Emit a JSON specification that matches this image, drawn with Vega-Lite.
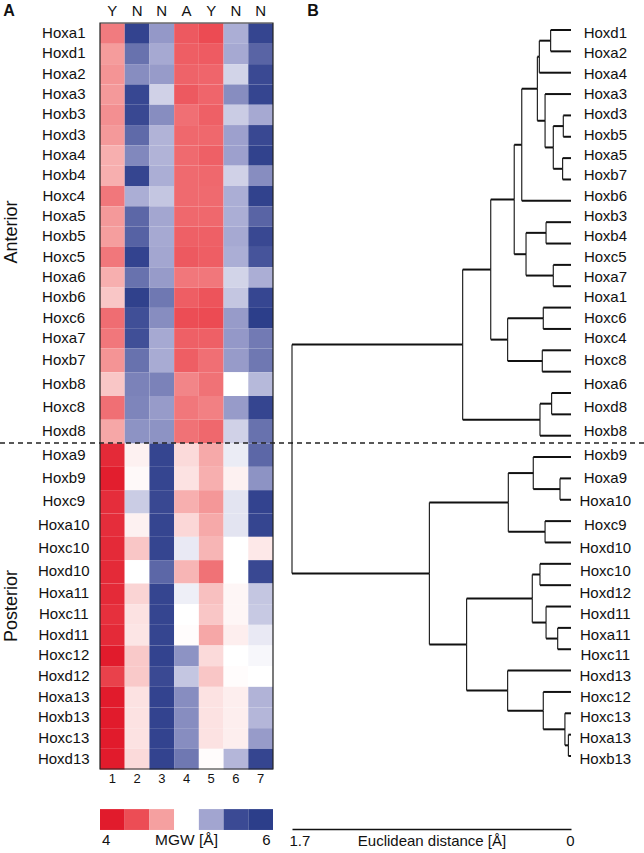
{
  "$schema": "https://vega.github.io/schema/vega-lite/v6.json",
  "width": 644,
  "height": 853,
  "autosize": {"type": "none"},
  "padding": 0,
  "background": "white",
  "config": {
    "view": {"stroke": null},
    "text": {"font": "Liberation Sans", "color": "#111111"},
    "axis": {"labelFont": "Liberation Sans", "titleFont": "Liberation Sans"}
  },
  "datasets": {
    "genes": [
      {"g": "Hoxa1", "r": 0}, {"g": "Hoxd1", "r": 1}, {"g": "Hoxa2", "r": 2}, {"g": "Hoxa3", "r": 3},
      {"g": "Hoxb3", "r": 4}, {"g": "Hoxd3", "r": 5}, {"g": "Hoxa4", "r": 6}, {"g": "Hoxb4", "r": 7},
      {"g": "Hoxc4", "r": 8}, {"g": "Hoxa5", "r": 9}, {"g": "Hoxb5", "r": 10}, {"g": "Hoxc5", "r": 11},
      {"g": "Hoxa6", "r": 12}, {"g": "Hoxb6", "r": 13}, {"g": "Hoxc6", "r": 14}, {"g": "Hoxa7", "r": 15},
      {"g": "Hoxb7", "r": 16}, {"g": "Hoxb8", "r": 17}, {"g": "Hoxc8", "r": 18}, {"g": "Hoxd8", "r": 19},
      {"g": "Hoxa9", "r": 20}, {"g": "Hoxb9", "r": 21}, {"g": "Hoxc9", "r": 22}, {"g": "Hoxa10", "r": 23},
      {"g": "Hoxc10", "r": 24}, {"g": "Hoxd10", "r": 25}, {"g": "Hoxa11", "r": 26}, {"g": "Hoxc11", "r": 27},
      {"g": "Hoxd11", "r": 28}, {"g": "Hoxc12", "r": 29}, {"g": "Hoxd12", "r": 30}, {"g": "Hoxa13", "r": 31},
      {"g": "Hoxb13", "r": 32}, {"g": "Hoxc13", "r": 33}, {"g": "Hoxd13", "r": 34}
    ],
    "cols": [
      {"c": 1, "h": "Y"}, {"c": 2, "h": "N"}, {"c": 3, "h": "N"}, {"c": 4, "h": "A"},
      {"c": 5, "h": "Y"}, {"c": 6, "h": "N"}, {"c": 7, "h": "N"}
    ],
    "legend": [
      {"c": 1, "v": 4}, {"c": 2, "v": 4.333}, {"c": 3, "v": 4.667}, {"c": 4, "v": 5},
      {"c": 5, "v": 5.333}, {"c": 6, "v": 5.667}, {"c": 7, "v": 6}
    ],
    "cells": [
      {"g":"Hoxa1","c":1,"v":4.52},{"g":"Hoxa1","c":2,"v":5.85},{"g":"Hoxa1","c":3,"v":5.38},{"g":"Hoxa1","c":4,"v":4.38},{"g":"Hoxa1","c":5,"v":4.32},{"g":"Hoxa1","c":6,"v":5.30},{"g":"Hoxa1","c":7,"v":5.80},
      {"g":"Hoxd1","c":1,"v":4.65},{"g":"Hoxd1","c":2,"v":5.52},{"g":"Hoxd1","c":3,"v":5.32},{"g":"Hoxd1","c":4,"v":4.40},{"g":"Hoxd1","c":5,"v":4.39},{"g":"Hoxd1","c":6,"v":5.32},{"g":"Hoxd1","c":7,"v":5.57},
      {"g":"Hoxa2","c":1,"v":4.62},{"g":"Hoxa2","c":2,"v":5.42},{"g":"Hoxa2","c":3,"v":5.37},{"g":"Hoxa2","c":4,"v":4.42},{"g":"Hoxa2","c":5,"v":4.43},{"g":"Hoxa2","c":6,"v":5.16},{"g":"Hoxa2","c":7,"v":5.70},
      {"g":"Hoxa3","c":1,"v":4.64},{"g":"Hoxa3","c":2,"v":5.75},{"g":"Hoxa3","c":3,"v":5.17},{"g":"Hoxa3","c":4,"v":4.38},{"g":"Hoxa3","c":5,"v":4.43},{"g":"Hoxa3","c":6,"v":5.42},{"g":"Hoxa3","c":7,"v":5.80},
      {"g":"Hoxb3","c":1,"v":4.60},{"g":"Hoxb3","c":2,"v":5.72},{"g":"Hoxb3","c":3,"v":5.42},{"g":"Hoxb3","c":4,"v":4.47},{"g":"Hoxb3","c":5,"v":4.41},{"g":"Hoxb3","c":6,"v":5.19},{"g":"Hoxb3","c":7,"v":5.32},
      {"g":"Hoxd3","c":1,"v":4.64},{"g":"Hoxd3","c":2,"v":5.55},{"g":"Hoxd3","c":3,"v":5.28},{"g":"Hoxd3","c":4,"v":4.44},{"g":"Hoxd3","c":5,"v":4.44},{"g":"Hoxd3","c":6,"v":5.35},{"g":"Hoxd3","c":7,"v":5.72},
      {"g":"Hoxa4","c":1,"v":4.72},{"g":"Hoxa4","c":2,"v":5.44},{"g":"Hoxa4","c":3,"v":5.28},{"g":"Hoxa4","c":4,"v":4.45},{"g":"Hoxa4","c":5,"v":4.41},{"g":"Hoxa4","c":6,"v":5.35},{"g":"Hoxa4","c":7,"v":5.90},
      {"g":"Hoxb4","c":1,"v":4.72},{"g":"Hoxb4","c":2,"v":5.80},{"g":"Hoxb4","c":3,"v":5.30},{"g":"Hoxb4","c":4,"v":4.45},{"g":"Hoxb4","c":5,"v":4.44},{"g":"Hoxb4","c":6,"v":5.17},{"g":"Hoxb4","c":7,"v":5.42},
      {"g":"Hoxc4","c":1,"v":4.50},{"g":"Hoxc4","c":2,"v":5.30},{"g":"Hoxc4","c":3,"v":5.21},{"g":"Hoxc4","c":4,"v":4.45},{"g":"Hoxc4","c":5,"v":4.45},{"g":"Hoxc4","c":6,"v":5.30},{"g":"Hoxc4","c":7,"v":5.90},
      {"g":"Hoxa5","c":1,"v":4.64},{"g":"Hoxa5","c":2,"v":5.56},{"g":"Hoxa5","c":3,"v":5.33},{"g":"Hoxa5","c":4,"v":4.44},{"g":"Hoxa5","c":5,"v":4.44},{"g":"Hoxa5","c":6,"v":5.30},{"g":"Hoxa5","c":7,"v":5.57},
      {"g":"Hoxb5","c":1,"v":4.66},{"g":"Hoxb5","c":2,"v":5.58},{"g":"Hoxb5","c":3,"v":5.32},{"g":"Hoxb5","c":4,"v":4.41},{"g":"Hoxb5","c":5,"v":4.41},{"g":"Hoxb5","c":6,"v":5.32},{"g":"Hoxb5","c":7,"v":5.72},
      {"g":"Hoxc5","c":1,"v":4.50},{"g":"Hoxc5","c":2,"v":5.85},{"g":"Hoxc5","c":3,"v":5.33},{"g":"Hoxc5","c":4,"v":4.38},{"g":"Hoxc5","c":5,"v":4.40},{"g":"Hoxc5","c":6,"v":5.30},{"g":"Hoxc5","c":7,"v":5.63},
      {"g":"Hoxa6","c":1,"v":4.72},{"g":"Hoxa6","c":2,"v":5.52},{"g":"Hoxa6","c":3,"v":5.37},{"g":"Hoxa6","c":4,"v":4.50},{"g":"Hoxa6","c":5,"v":4.50},{"g":"Hoxa6","c":6,"v":5.16},{"g":"Hoxa6","c":7,"v":5.30},
      {"g":"Hoxb6","c":1,"v":4.80},{"g":"Hoxb6","c":2,"v":5.92},{"g":"Hoxb6","c":3,"v":5.50},{"g":"Hoxb6","c":4,"v":4.40},{"g":"Hoxb6","c":5,"v":4.36},{"g":"Hoxb6","c":6,"v":5.21},{"g":"Hoxb6","c":7,"v":5.78},
      {"g":"Hoxc6","c":1,"v":4.46},{"g":"Hoxc6","c":2,"v":5.65},{"g":"Hoxc6","c":3,"v":5.42},{"g":"Hoxc6","c":4,"v":4.33},{"g":"Hoxc6","c":5,"v":4.32},{"g":"Hoxc6","c":6,"v":5.37},{"g":"Hoxc6","c":7,"v":6.00},
      {"g":"Hoxa7","c":1,"v":4.50},{"g":"Hoxa7","c":2,"v":5.65},{"g":"Hoxa7","c":3,"v":5.32},{"g":"Hoxa7","c":4,"v":4.41},{"g":"Hoxa7","c":5,"v":4.41},{"g":"Hoxa7","c":6,"v":5.38},{"g":"Hoxa7","c":7,"v":5.49},
      {"g":"Hoxb7","c":1,"v":4.62},{"g":"Hoxb7","c":2,"v":5.52},{"g":"Hoxb7","c":3,"v":5.31},{"g":"Hoxb7","c":4,"v":4.40},{"g":"Hoxb7","c":5,"v":4.47},{"g":"Hoxb7","c":6,"v":5.37},{"g":"Hoxb7","c":7,"v":5.50},
      {"g":"Hoxb8","c":1,"v":4.80},{"g":"Hoxb8","c":2,"v":5.46},{"g":"Hoxb8","c":3,"v":5.46},{"g":"Hoxb8","c":4,"v":4.56},{"g":"Hoxb8","c":5,"v":4.48},{"g":"Hoxb8","c":6,"v":5.00},{"g":"Hoxb8","c":7,"v":5.26},
      {"g":"Hoxc8","c":1,"v":4.47},{"g":"Hoxc8","c":2,"v":5.45},{"g":"Hoxc8","c":3,"v":5.37},{"g":"Hoxc8","c":4,"v":4.50},{"g":"Hoxc8","c":5,"v":4.54},{"g":"Hoxc8","c":6,"v":5.37},{"g":"Hoxc8","c":7,"v":5.80},
      {"g":"Hoxd8","c":1,"v":4.69},{"g":"Hoxd8","c":2,"v":5.40},{"g":"Hoxd8","c":3,"v":5.40},{"g":"Hoxd8","c":4,"v":4.48},{"g":"Hoxd8","c":5,"v":4.44},{"g":"Hoxd8","c":6,"v":5.17},{"g":"Hoxd8","c":7,"v":5.52},
      {"g":"Hoxa9","c":1,"v":4.10},{"g":"Hoxa9","c":2,"v":4.95},{"g":"Hoxa9","c":3,"v":5.80},{"g":"Hoxa9","c":4,"v":4.87},{"g":"Hoxa9","c":5,"v":4.70},{"g":"Hoxa9","c":6,"v":5.07},{"g":"Hoxa9","c":7,"v":5.56},
      {"g":"Hoxb9","c":1,"v":4.02},{"g":"Hoxb9","c":2,"v":4.98},{"g":"Hoxb9","c":3,"v":5.80},{"g":"Hoxb9","c":4,"v":4.90},{"g":"Hoxb9","c":5,"v":4.72},{"g":"Hoxb9","c":6,"v":4.95},{"g":"Hoxb9","c":7,"v":5.40},
      {"g":"Hoxc9","c":1,"v":4.12},{"g":"Hoxc9","c":2,"v":5.19},{"g":"Hoxc9","c":3,"v":5.72},{"g":"Hoxc9","c":4,"v":4.72},{"g":"Hoxc9","c":5,"v":4.63},{"g":"Hoxc9","c":6,"v":5.10},{"g":"Hoxc9","c":7,"v":5.85},
      {"g":"Hoxa10","c":1,"v":4.12},{"g":"Hoxa10","c":2,"v":4.95},{"g":"Hoxa10","c":3,"v":5.80},{"g":"Hoxa10","c":4,"v":4.86},{"g":"Hoxa10","c":5,"v":4.70},{"g":"Hoxa10","c":6,"v":5.10},{"g":"Hoxa10","c":7,"v":5.80},
      {"g":"Hoxc10","c":1,"v":4.10},{"g":"Hoxc10","c":2,"v":4.80},{"g":"Hoxc10","c":3,"v":5.80},{"g":"Hoxc10","c":4,"v":5.08},{"g":"Hoxc10","c":5,"v":4.74},{"g":"Hoxc10","c":6,"v":5.00},{"g":"Hoxc10","c":7,"v":4.92},
      {"g":"Hoxd10","c":1,"v":4.10},{"g":"Hoxd10","c":2,"v":5.00},{"g":"Hoxd10","c":3,"v":5.56},{"g":"Hoxd10","c":4,"v":4.74},{"g":"Hoxd10","c":5,"v":4.48},{"g":"Hoxd10","c":6,"v":5.00},{"g":"Hoxd10","c":7,"v":5.72},
      {"g":"Hoxa11","c":1,"v":4.10},{"g":"Hoxa11","c":2,"v":4.85},{"g":"Hoxa11","c":3,"v":5.80},{"g":"Hoxa11","c":4,"v":5.06},{"g":"Hoxa11","c":5,"v":4.78},{"g":"Hoxa11","c":6,"v":4.97},{"g":"Hoxa11","c":7,"v":5.21},
      {"g":"Hoxc11","c":1,"v":4.14},{"g":"Hoxc11","c":2,"v":4.90},{"g":"Hoxc11","c":3,"v":5.80},{"g":"Hoxc11","c":4,"v":5.00},{"g":"Hoxc11","c":5,"v":4.80},{"g":"Hoxc11","c":6,"v":4.97},{"g":"Hoxc11","c":7,"v":5.20},
      {"g":"Hoxd11","c":1,"v":4.10},{"g":"Hoxd11","c":2,"v":4.91},{"g":"Hoxd11","c":3,"v":5.80},{"g":"Hoxd11","c":4,"v":4.99},{"g":"Hoxd11","c":5,"v":4.69},{"g":"Hoxd11","c":6,"v":4.94},{"g":"Hoxd11","c":7,"v":5.08},
      {"g":"Hoxc12","c":1,"v":4.00},{"g":"Hoxc12","c":2,"v":4.81},{"g":"Hoxc12","c":3,"v":5.85},{"g":"Hoxc12","c":4,"v":5.40},{"g":"Hoxc12","c":5,"v":4.87},{"g":"Hoxc12","c":6,"v":5.00},{"g":"Hoxc12","c":7,"v":5.03},
      {"g":"Hoxd12","c":1,"v":4.25},{"g":"Hoxd12","c":2,"v":4.81},{"g":"Hoxd12","c":3,"v":5.70},{"g":"Hoxd12","c":4,"v":5.21},{"g":"Hoxd12","c":5,"v":4.80},{"g":"Hoxd12","c":6,"v":4.99},{"g":"Hoxd12","c":7,"v":5.00},
      {"g":"Hoxa13","c":1,"v":4.00},{"g":"Hoxa13","c":2,"v":4.90},{"g":"Hoxa13","c":3,"v":5.85},{"g":"Hoxa13","c":4,"v":5.42},{"g":"Hoxa13","c":5,"v":4.90},{"g":"Hoxa13","c":6,"v":4.94},{"g":"Hoxa13","c":7,"v":5.28},
      {"g":"Hoxb13","c":1,"v":4.00},{"g":"Hoxb13","c":2,"v":4.90},{"g":"Hoxb13","c":3,"v":5.85},{"g":"Hoxb13","c":4,"v":5.42},{"g":"Hoxb13","c":5,"v":4.90},{"g":"Hoxb13","c":6,"v":4.94},{"g":"Hoxb13","c":7,"v":5.27},
      {"g":"Hoxc13","c":1,"v":4.00},{"g":"Hoxc13","c":2,"v":4.90},{"g":"Hoxc13","c":3,"v":5.85},{"g":"Hoxc13","c":4,"v":5.42},{"g":"Hoxc13","c":5,"v":4.90},{"g":"Hoxc13","c":6,"v":4.94},{"g":"Hoxc13","c":7,"v":5.37},
      {"g":"Hoxd13","c":1,"v":4.00},{"g":"Hoxd13","c":2,"v":4.87},{"g":"Hoxd13","c":3,"v":5.85},{"g":"Hoxd13","c":4,"v":5.50},{"g":"Hoxd13","c":5,"v":4.99},{"g":"Hoxd13","c":6,"v":5.27},{"g":"Hoxd13","c":7,"v":5.80}
    ],
    "tree": [
      {"id":"Hoxd1","d":0,"y":0,"p":"n1"},{"id":"Hoxa2","d":0,"y":1,"p":"n1"},{"id":"Hoxa4","d":0,"y":2,"p":"n2"},
      {"id":"Hoxa3","d":0,"y":3,"p":"n7"},{"id":"Hoxd3","d":0,"y":4,"p":"n4"},{"id":"Hoxb5","d":0,"y":5,"p":"n4"},
      {"id":"Hoxa5","d":0,"y":6,"p":"n5"},{"id":"Hoxb7","d":0,"y":7,"p":"n5"},{"id":"Hoxb6","d":0,"y":8,"p":"n9"},
      {"id":"Hoxb3","d":0,"y":9,"p":"n11"},{"id":"Hoxb4","d":0,"y":10,"p":"n11"},{"id":"Hoxc5","d":0,"y":11,"p":"n12"},
      {"id":"Hoxa7","d":0,"y":12,"p":"n12"},{"id":"Hoxa1","d":0,"y":13,"p":"n17"},{"id":"Hoxc6","d":0,"y":14,"p":"n17"},
      {"id":"Hoxc4","d":0,"y":15,"p":"n18"},{"id":"Hoxc8","d":0,"y":16,"p":"n18"},{"id":"Hoxa6","d":0,"y":17,"p":"n19"},
      {"id":"Hoxd8","d":0,"y":18,"p":"n19"},{"id":"Hoxb8","d":0,"y":19,"p":"n20"},{"id":"Hoxb9","d":0,"y":20,"p":"n23"},
      {"id":"Hoxa9","d":0,"y":21,"p":"n22"},{"id":"Hoxa10","d":0,"y":22,"p":"n22"},{"id":"Hoxc9","d":0,"y":23,"p":"n24"},
      {"id":"Hoxd10","d":0,"y":24,"p":"n24"},{"id":"Hoxc10","d":0,"y":25,"p":"n26"},{"id":"Hoxd12","d":0,"y":26,"p":"n26"},
      {"id":"Hoxd11","d":0,"y":27,"p":"n28"},{"id":"Hoxa11","d":0,"y":28,"p":"n27"},{"id":"Hoxc11","d":0,"y":29,"p":"n27"},
      {"id":"Hoxd13","d":0,"y":30,"p":"n33"},{"id":"Hoxc12","d":0,"y":31,"p":"n32"},{"id":"Hoxc13","d":0,"y":32,"p":"n31"},
      {"id":"Hoxa13","d":0,"y":33,"p":"n30"},{"id":"Hoxb13","d":0,"y":34,"p":"n30"},
      {"id":"n1","d":0.124,"y":0.5,"p":"n2"},
      {"id":"n2","d":0.193,"y":1.25,"p":"n8"},
      {"id":"n4","d":0.047,"y":4.5,"p":"n6"},
      {"id":"n5","d":0.051,"y":6.5,"p":"n6"},
      {"id":"n6","d":0.108,"y":5.5,"p":"n7"},
      {"id":"n7","d":0.158,"y":4.25,"p":"n8"},
      {"id":"n8","d":0.205,"y":2.75,"p":"n9"},
      {"id":"n9","d":0.300,"y":5.375,"p":"n14"},
      {"id":"n11","d":0.152,"y":9.5,"p":"n13"},
      {"id":"n12","d":0.108,"y":11.5,"p":"n13"},
      {"id":"n13","d":0.274,"y":10.5,"p":"n14"},
      {"id":"n14","d":0.346,"y":7.9375,"p":"n15"},
      {"id":"n17","d":0.169,"y":13.5,"p":"n16"},
      {"id":"n18","d":0.175,"y":15.5,"p":"n16"},
      {"id":"n16","d":0.386,"y":14.5,"p":"n15"},
      {"id":"n15","d":0.489,"y":11.21875,"p":"n21"},
      {"id":"n19","d":0.118,"y":17.5,"p":"n20"},
      {"id":"n20","d":0.189,"y":18.25,"p":"n21"},
      {"id":"n21","d":0.660,"y":14.734375,"p":"root"},
      {"id":"n22","d":0.067,"y":21.5,"p":"n23"},
      {"id":"n23","d":0.230,"y":20.75,"p":"n25"},
      {"id":"n24","d":0.158,"y":23.5,"p":"n25"},
      {"id":"n25","d":0.382,"y":22.125,"p":"n35"},
      {"id":"n26","d":0.189,"y":25.5,"p":"n29"},
      {"id":"n27","d":0.081,"y":28.5,"p":"n28"},
      {"id":"n28","d":0.152,"y":27.75,"p":"n29"},
      {"id":"n29","d":0.236,"y":26.625,"p":"n34"},
      {"id":"n30","d":0.016,"y":33.5,"p":"n31"},
      {"id":"n31","d":0.037,"y":32.75,"p":"n32"},
      {"id":"n32","d":0.169,"y":31.875,"p":"n33"},
      {"id":"n33","d":0.386,"y":30.9375,"p":"n34"},
      {"id":"n34","d":0.636,"y":28.78125,"p":"n35"},
      {"id":"n35","d":0.863,"y":25.453125,"p":"root"},
      {"id":"root","d":1.7,"y":20.09375,"p":null}
    ]
  },
  "layer": [
    {
      "data": {"name": "cells"},
      "transform": [{"lookup": "g", "from": {"data": {"name": "genes"}, "key": "g", "fields": ["r"]}}],
      "mark": {"type": "rect"},
      "encoding": {
        "x": {"field": "c", "type": "ordinal", "axis": null, "scale": {"type": "band", "domain": [1,2,3,4,5,6,7], "range": [100, 273], "paddingInner": 0, "paddingOuter": 0}},
        "y": {"field": "r", "type": "quantitative", "bin": {"binned": true, "step": 1}, "axis": null, "scale": {"type": "linear", "domain": [0, 16, 20, 26, 35], "range": [23, 348, 443, 583, 769], "zero": false, "nice": false}},
        "color": {"field": "v", "type": "quantitative", "legend": null, "scale": {"type": "linear", "domain": [4, 4.333, 4.667, 5, 5.333, 5.667, 6], "range": ["#e11b2c", "#ec4d55", "#f5a0a0", "#ffffff", "#a2a5d0", "#3b4a94", "#2c3e8a"], "interpolate": "rgb"}}
      }
    },
    {
      "data": {"values": [{}]},
      "mark": {"type": "rect", "fill": null, "stroke": "#222222", "strokeWidth": 1.2},
      "encoding": {
        "x": {"datum": 0.5, "axis": null, "scale": {"type": "linear", "domain": [0.5, 7.5], "range": [100, 273], "zero": false, "nice": false}},
        "x2": {"datum": 7.5},
        "y": {"datum": 0, "axis": null, "scale": {"type": "linear", "domain": [0, 16, 20, 26, 35], "range": [23, 348, 443, 583, 769], "zero": false, "nice": false}},
        "y2": {"datum": 35}
      }
    },
    {
      "data": {"values": [{}]},
      "mark": {"type": "rule", "stroke": "#222222", "strokeWidth": 1.3, "strokeDash": [5, 4]},
      "encoding": {
        "y": {"datum": 20, "axis": null, "scale": {"type": "linear", "domain": [0, 16, 20, 26, 35], "range": [23, 348, 443, 583, 769], "zero": false, "nice": false}}
      }
    },
    {
      "data": {"name": "genes"},
      "mark": {"type": "text", "fontSize": 15, "align": "center", "baseline": "middle"},
      "encoding": {
        "text": {"field": "g"},
        "x": {"datum": -0.965, "axis": null, "scale": {"type": "linear", "domain": [0.5, 7.5], "range": [100, 273], "zero": false, "nice": false}},
        "y": {"field": "r", "type": "quantitative", "axis": null, "scale": {"type": "linear", "domain": [-0.5, 15.5, 19.5, 25.5, 34.5], "range": [23, 348, 443, 583, 769], "zero": false, "nice": false}}
      }
    },
    {
      "data": {"name": "cols"},
      "mark": {"type": "text", "fontSize": 15, "align": "center", "baseline": "middle"},
      "encoding": {
        "text": {"field": "h"},
        "x": {"field": "c", "type": "ordinal", "axis": null, "scale": {"type": "band", "domain": [1,2,3,4,5,6,7], "range": [100, 273], "paddingInner": 0, "paddingOuter": 0}},
        "y": {"datum": -1.1, "axis": null, "scale": {"type": "linear", "domain": [-0.5, 15.5, 19.5, 25.5, 34.5], "range": [23, 348, 443, 583, 769], "zero": false, "nice": false}}
      }
    },
    {
      "data": {"name": "cols"},
      "mark": {"type": "text", "fontSize": 13, "align": "center", "baseline": "middle"},
      "encoding": {
        "text": {"field": "c"},
        "x": {"field": "c", "type": "ordinal", "axis": null, "scale": {"type": "band", "domain": [1,2,3,4,5,6,7], "range": [100, 273], "paddingInner": 0, "paddingOuter": 0}},
        "y": {"datum": 35, "axis": null, "scale": {"type": "linear", "domain": [-0.5, 15.5, 19.5, 25.5, 34.5], "range": [23, 348, 443, 583, 769], "zero": false, "nice": false}}
      }
    },
    {
      "data": {"name": "legend"},
      "mark": {"type": "rect"},
      "encoding": {
        "x": {"field": "c", "type": "ordinal", "axis": null, "scale": {"type": "band", "domain": [1,2,3,4,5,6,7], "range": [100, 273], "paddingInner": 0, "paddingOuter": 0}},
        "y": {"datum": 36.94, "axis": null, "scale": {"type": "linear", "domain": [0, 16, 20, 26, 35], "range": [23, 348, 443, 583, 769], "zero": false, "nice": false}},
        "y2": {"datum": 37.95},
        "color": {"field": "v", "type": "quantitative", "legend": null, "scale": {"type": "linear", "domain": [4, 4.333, 4.667, 5, 5.333, 5.667, 6], "range": ["#e11b2c", "#ec4d55", "#f5a0a0", "#ffffff", "#a2a5d0", "#3b4a94", "#2c3e8a"], "interpolate": "rgb"}}
      }
    },
    {
      "data": {"values": [{}]},
      "mark": {"type": "text", "fontSize": 15, "align": "left", "baseline": "middle"},
      "encoding": {
        "text": {"value": "4"},
        "x": {"datum": 0.58, "axis": null, "scale": {"type": "linear", "domain": [0.5, 7.5], "range": [100, 273], "zero": false, "nice": false}},
        "y": {"datum": 37.93, "axis": null, "scale": {"type": "linear", "domain": [-0.5, 15.5, 19.5, 25.5, 34.5], "range": [23, 348, 443, 583, 769], "zero": false, "nice": false}}
      }
    },
    {
      "data": {"values": [{}]},
      "mark": {"type": "text", "fontSize": 15.5, "align": "center", "baseline": "middle"},
      "encoding": {
        "text": {"value": "MGW [Å]"},
        "x": {"datum": 4, "axis": null, "scale": {"type": "linear", "domain": [0.5, 7.5], "range": [100, 273], "zero": false, "nice": false}},
        "y": {"datum": 37.93, "axis": null, "scale": {"type": "linear", "domain": [-0.5, 15.5, 19.5, 25.5, 34.5], "range": [23, 348, 443, 583, 769], "zero": false, "nice": false}}
      }
    },
    {
      "data": {"values": [{}]},
      "mark": {"type": "text", "fontSize": 15, "align": "right", "baseline": "middle"},
      "encoding": {
        "text": {"value": "6"},
        "x": {"datum": 7.4, "axis": null, "scale": {"type": "linear", "domain": [0.5, 7.5], "range": [100, 273], "zero": false, "nice": false}},
        "y": {"datum": 37.93, "axis": null, "scale": {"type": "linear", "domain": [-0.5, 15.5, 19.5, 25.5, 34.5], "range": [23, 348, 443, 583, 769], "zero": false, "nice": false}}
      }
    },
    {
      "data": {"values": [{}]},
      "mark": {"type": "text", "fontSize": 18, "align": "center", "baseline": "middle", "angle": 270},
      "encoding": {
        "text": {"value": "Anterior"},
        "x": {"datum": -3.06, "axis": null, "scale": {"type": "linear", "domain": [0.5, 7.5], "range": [100, 273], "zero": false, "nice": false}},
        "y": {"datum": 9.79, "axis": null, "scale": {"type": "linear", "domain": [-0.5, 15.5, 19.5, 25.5, 34.5], "range": [23, 348, 443, 583, 769], "zero": false, "nice": false}}
      }
    },
    {
      "data": {"values": [{}]},
      "mark": {"type": "text", "fontSize": 18, "align": "center", "baseline": "middle", "angle": 270},
      "encoding": {
        "text": {"value": "Posterior"},
        "x": {"datum": -3.06, "axis": null, "scale": {"type": "linear", "domain": [0.5, 7.5], "range": [100, 273], "zero": false, "nice": false}},
        "y": {"datum": 26.61, "axis": null, "scale": {"type": "linear", "domain": [-0.5, 15.5, 19.5, 25.5, 34.5], "range": [23, 348, 443, 583, 769], "zero": false, "nice": false}}
      }
    },
    {
      "data": {"values": [{}]},
      "mark": {"type": "text", "fontSize": 16, "fontWeight": "bold", "align": "center", "baseline": "middle"},
      "encoding": {
        "text": {"value": "A"},
        "x": {"datum": -3.18, "axis": null, "scale": {"type": "linear", "domain": [0.5, 7.5], "range": [100, 273], "zero": false, "nice": false}},
        "y": {"datum": -1.1, "axis": null, "scale": {"type": "linear", "domain": [-0.5, 15.5, 19.5, 25.5, 34.5], "range": [23, 348, 443, 583, 769], "zero": false, "nice": false}}
      }
    },
    {
      "data": {"name": "tree"},
      "transform": [
        {"filter": "datum.p != null"},
        {"lookup": "p", "from": {"data": {"name": "tree"}, "key": "id", "fields": ["d", "y"]}, "as": ["pd", "py"]}
      ],
      "mark": {"type": "rule", "stroke": "#111111", "strokeWidth": 2},
      "encoding": {
        "x": {"field": "d", "type": "quantitative", "scale": {"type": "linear", "domain": [1.7, 0], "range": [292, 571], "zero": false, "nice": false},
          "axis": {"orient": "bottom", "offset": -24, "values": [1.7, 0], "format": ".1~f", "grid": false, "ticks": false, "tickSize": 0,
            "domain": true, "domainColor": "#111111", "domainWidth": 1.4, "labelFlush": true, "labelFlushOffset": 3, "labelPadding": 4,
            "labelFontSize": 15, "labelColor": "#111111", "title": "Euclidean distance [Å]", "titleFontSize": 15, "titleFontWeight": "normal",
            "titleColor": "#111111", "titleBaseline": "top", "titleY": 4}},
        "x2": {"field": "pd"},
        "y": {"field": "y", "type": "quantitative", "axis": null, "scale": {"type": "linear", "domain": [0, 34], "range": [30, 756], "zero": false, "nice": false}}
      }
    },
    {
      "data": {"name": "tree"},
      "transform": [
        {"filter": "datum.p != null"},
        {"lookup": "p", "from": {"data": {"name": "tree"}, "key": "id", "fields": ["d", "y"]}, "as": ["pd", "py"]}
      ],
      "mark": {"type": "rule", "stroke": "#111111", "strokeWidth": 1.1},
      "encoding": {
        "x": {"field": "pd", "type": "quantitative", "axis": null, "scale": {"type": "linear", "domain": [1.7, 0], "range": [292, 571], "zero": false, "nice": false}},
        "y": {"field": "y", "type": "quantitative", "axis": null, "scale": {"type": "linear", "domain": [0, 34], "range": [30, 756], "zero": false, "nice": false}},
        "y2": {"field": "py"}
      }
    },
    {
      "data": {"name": "tree"},
      "transform": [{"filter": "datum.d == 0"}],
      "mark": {"type": "text", "fontSize": 15, "align": "center", "baseline": "middle"},
      "encoding": {
        "text": {"field": "id"},
        "x": {"datum": -0.209, "axis": null, "scale": {"type": "linear", "domain": [1.7, 0], "range": [292, 571], "zero": false, "nice": false}},
        "y": {"field": "y", "type": "quantitative", "axis": null, "scale": {"type": "linear", "domain": [-0.5, 15.5, 19.5, 25.5, 34.5], "range": [23, 348, 443, 583, 769], "zero": false, "nice": false}}
      }
    },
    {
      "data": {"values": [{}]},
      "mark": {"type": "text", "fontSize": 16, "fontWeight": "bold", "align": "center", "baseline": "middle"},
      "encoding": {
        "text": {"value": "B"},
        "x": {"datum": 1.572, "axis": null, "scale": {"type": "linear", "domain": [1.7, 0], "range": [292, 571], "zero": false, "nice": false}},
        "y": {"datum": -1.1, "axis": null, "scale": {"type": "linear", "domain": [-0.5, 15.5, 19.5, 25.5, 34.5], "range": [23, 348, 443, 583, 769], "zero": false, "nice": false}}
      }
    }
  ],
  "resolve": {
    "scale": {"x": "independent", "y": "independent"},
    "axis": {"x": "independent", "y": "independent"}
  }
}
